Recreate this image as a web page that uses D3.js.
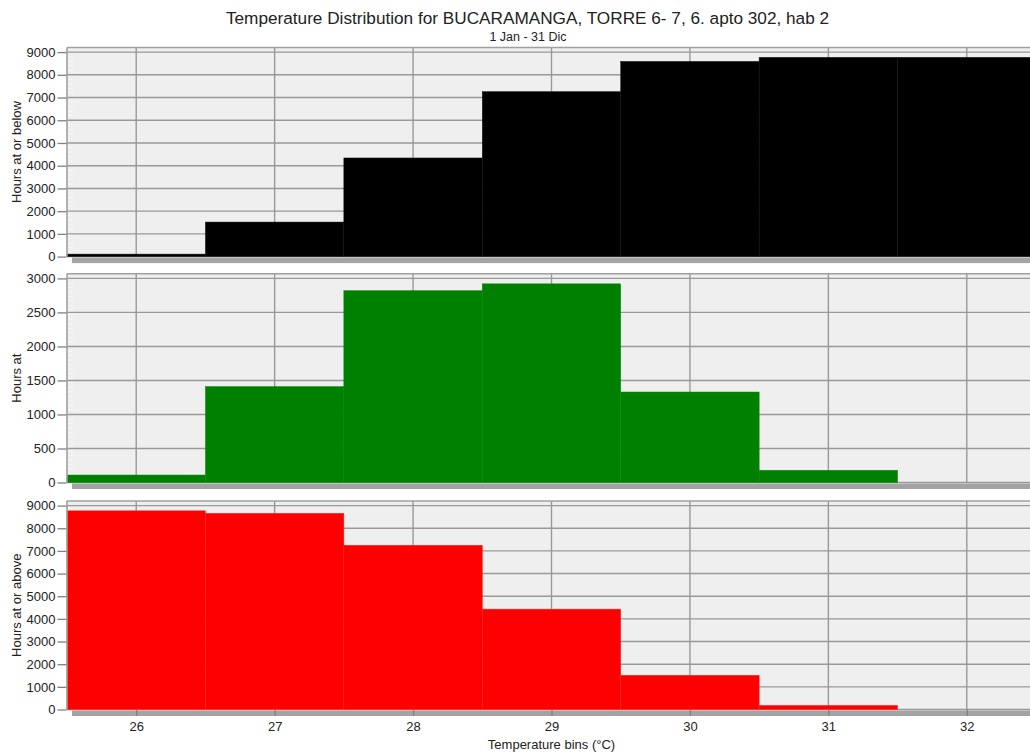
<!DOCTYPE html>
<html>
<head>
<meta charset="utf-8">
<script src="https://cdn.jsdelivr.net/npm/d3@7"></script>
<style>
  html, body { margin: 0; padding: 0; background: #fff; overflow: hidden; }
  svg { display: block; font-family: "Liberation Sans", Arial, sans-serif; }
</style>
</head>
<body>
<svg id="chart" width="1030" height="753"></svg>
<script>
// ---- data ----
const bins = [26, 27, 28, 29, 30, 31, 32];
const hoursAtOrBelow = [110, 1520, 4340, 7260, 8590, 8770, 8770];
const hoursAt = [110, 1410, 2820, 2920, 1330, 180, 0];
const hoursAtOrAbove = [8770, 8660, 7250, 4430, 1510, 180, 0];
const xTicks = [26, 27, 28, 29, 30, 31, 32];
const yTicksTop = [0, 1000, 2000, 3000, 4000, 5000, 6000, 7000, 8000, 9000];
const yTicksMid = [0, 500, 1000, 1500, 2000, 2500, 3000];
const yTicksBot = [0, 1000, 2000, 3000, 4000, 5000, 6000, 7000, 8000, 9000];
const titleText = "Temperature Distribution for BUCARAMANGA, TORRE 6- 7, 6. apto 302, hab 2";
const subtitleText = "1 Jan - 31 Dic";
const xLabel = "Temperature bins (°C)";

const panels = [
  { values: hoursAtOrBelow, ticks: yTicksTop, max: 9000, color: "#000000", edge: "#151515", label: "Hours at or below", top: 47.5, zero: 256.6 },
  { values: hoursAt, ticks: yTicksMid, max: 3000, color: "#008000", edge: "#0a880a", label: "Hours at", top: 273.8, zero: 482.5 },
  { values: hoursAtOrAbove, ticks: yTicksBot, max: 9000, color: "#ff0000", edge: "#ff2020", label: "Hours at or above", top: 501, zero: 709.5 }
];

const svg = d3.select("#chart");
const left = 67, right = 1036;
const x = d3.scaleLinear().domain([25.5, 32.5]).range([left, right]);
const gridColor = "#999999";
const textColor = "#222222";

// title
svg.append("text").attr("x", 527.5).attr("y", 24).attr("text-anchor", "middle")
  .attr("font-size", 17.2).attr("fill", textColor).text(titleText);
svg.append("text").attr("x", 528).attr("y", 41).attr("text-anchor", "middle")
  .attr("font-size", 12.5).attr("fill", textColor).text(subtitleText);

panels.forEach((p, pi) => {
  const y = d3.scaleLinear().domain([0, p.max]).range([p.zero, p.top + 4.6]);
  const g = svg.append("g");

  // shadow
  g.append("rect").attr("x", left + 5).attr("y", p.zero + 1).attr("width", right - left)
    .attr("height", 5.5).attr("fill", "#a3a3a3");

  // background
  g.append("rect").attr("x", left).attr("y", p.top).attr("width", right - left)
    .attr("height", p.zero - p.top).attr("fill", "#eeefee");

  // faint minor marks at the left edge
  const minor = d3.range(0, p.max + 1, p.max / 45);
  g.selectAll("line.minor").data(minor).join("line")
    .attr("x1", left + 1).attr("x2", left + 6)
    .attr("y1", d => y(d)).attr("y2", d => y(d))
    .attr("stroke", "#ffffff").attr("stroke-width", 0.8).attr("opacity", 0.8);

  // horizontal grid
  g.selectAll("line.hgrid").data(p.ticks).join("line")
    .attr("x1", left).attr("x2", right)
    .attr("y1", d => y(d)).attr("y2", d => y(d))
    .attr("stroke", gridColor).attr("stroke-width", 1.4);

  // vertical grid
  g.selectAll("line.vgrid").data(xTicks).join("line")
    .attr("x1", d => x(d)).attr("x2", d => x(d))
    .attr("y1", p.top).attr("y2", p.zero)
    .attr("stroke", gridColor).attr("stroke-width", 1.4);

  // bars
  g.selectAll("rect.bar").data(bins.map((b, i) => ({ b, v: p.values[i] })).filter(d => d.v > 0)).join("rect")
    .attr("x", d => x(d.b - 0.5)).attr("width", d => x(d.b + 0.5) - x(d.b - 0.5))
    .attr("y", d => y(d.v)).attr("height", d => y(0) - y(d.v))
    .attr("fill", p.color).attr("stroke", p.edge).attr("stroke-width", 0.5);

  // frame top and left
  g.append("line").attr("x1", left).attr("x2", right).attr("y1", p.top).attr("y2", p.top)
    .attr("stroke", "#a0a0a0").attr("stroke-width", 1.6);
  g.append("line").attr("x1", left).attr("x2", left).attr("y1", p.top).attr("y2", p.zero)
    .attr("stroke", "#a0a0a0").attr("stroke-width", 1.6);

  // y axis ticks & labels
  const yAxis = d3.axisLeft(y).tickValues(p.ticks).tickSize(9).tickPadding(2).tickFormat(d3.format("d"));
  const ya = svg.append("g").attr("transform", `translate(${left - 0.5},0)`).call(yAxis);
  ya.select(".domain").remove();
  ya.selectAll(".tick line").attr("stroke", "#808080").attr("stroke-width", 1.3);
  ya.selectAll(".tick text").attr("font-size", 13).attr("fill", textColor)
    .attr("font-family", "Liberation Sans, Arial, sans-serif");

  // y title
  svg.append("text")
    .attr("transform", `translate(21,${(p.top + p.zero) / 2}) rotate(-90)`)
    .attr("text-anchor", "middle").attr("font-size", 13).attr("fill", textColor)
    .text(p.label);

  if (pi === panels.length - 1) {
    const xAxis = d3.axisBottom(x).tickValues(xTicks).tickSize(6.5).tickPadding(6).tickFormat(d3.format("d"));
    const xa = svg.append("g").attr("transform", `translate(0,${p.zero})`).call(xAxis);
    xa.select(".domain").remove();
    xa.selectAll(".tick line").attr("stroke", "#808080").attr("stroke-width", 1.3);
    xa.selectAll(".tick text").attr("font-size", 13).attr("fill", textColor)
      .attr("font-family", "Liberation Sans, Arial, sans-serif");
    svg.append("text").attr("x", (left + right) / 2).attr("y", 749).attr("text-anchor", "middle")
      .attr("font-size", 13).attr("fill", textColor).text(xLabel);
  }
});
</script>
</body>
</html>
